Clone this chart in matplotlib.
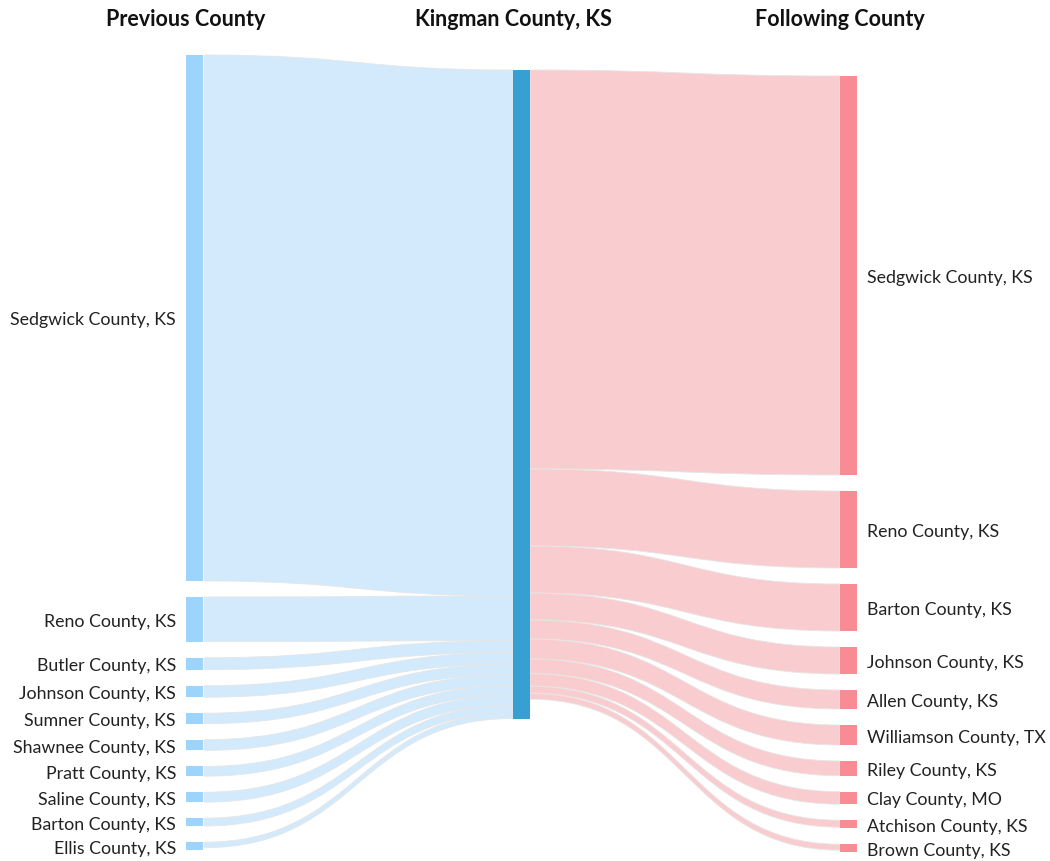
import matplotlib
matplotlib.use("Agg")
import matplotlib.pyplot as plt
from matplotlib.path import Path
from matplotlib.patches import PathPatch, Rectangle

# ---------------- data ----------------
center_name = "Kingman County, KS"
column_titles = ["Previous County", "Kingman County, KS", "Following County"]

prev_counties = ["Sedgwick County, KS", "Reno County, KS", "Butler County, KS",
                 "Johnson County, KS", "Sumner County, KS", "Shawnee County, KS",
                 "Pratt County, KS", "Saline County, KS", "Barton County, KS",
                 "Ellis County, KS"]
prev_values = [526, 44.7, 12, 11.5, 10.5, 10.7, 9.8, 10, 7.8, 5.5]

next_counties = ["Sedgwick County, KS", "Reno County, KS", "Barton County, KS",
                 "Johnson County, KS", "Allen County, KS", "Williamson County, TX",
                 "Riley County, KS", "Clay County, MO", "Atchison County, KS",
                 "Brown County, KS"]
next_values = [399, 77, 47, 27, 19, 20, 14.7, 12.5, 7, 6]

# ---------------- style / layout ----------------
W, H = 1050, 861
scale = 1.0          # px per unit
node_w = 17
gap = 16
min_node = 8
x_left, x_mid, x_right = 186, 513, 840
top_left, top_mid, top_right = 55, 70, 76
label_dy = 2.5

c_left_node = "#9dd4fc"
c_left_link = "#d2eafc"
c_mid_node = "#389fd3"
c_right_link = "#f9cdd0"
c_right_node = "#f88b93"
c_edge = "#e6e6e6"
txt_color = "#222222"

plt.rcParams['font.family'] = ['Lato', 'DejaVu Sans']

fig = plt.figure(figsize=(W / 100, H / 100), dpi=100)
ax = fig.add_axes([0, 0, 1, 1])
ax.set_xlim(0, W)
ax.set_ylim(H, 0)
ax.axis("off")


def link(xa, ya, xb, yb, w, color):
    xm = (xa + xb) / 2
    verts = [(xa, ya), (xm, ya), (xm, yb), (xb, yb),
             (xb, yb + w), (xm, yb + w), (xm, ya + w), (xa, ya + w), (xa, ya)]
    codes = [Path.MOVETO, Path.CURVE4, Path.CURVE4, Path.CURVE4,
             Path.LINETO, Path.CURVE4, Path.CURVE4, Path.CURVE4, Path.CLOSEPOLY]
    ax.add_patch(PathPatch(Path(verts, codes), facecolor=color,
                           edgecolor=c_edge, lw=0.6, zorder=1))


# left column
y = top_left
y_mid_in = top_mid
for name, v in zip(prev_counties, prev_values):
    h = max(v * scale, min_node)
    ax.add_patch(Rectangle((x_left, y), node_w, h, facecolor=c_left_node,
                           edgecolor="none", zorder=2))
    ax.text(x_left - 10, y + h / 2 + label_dy, name, ha="right", va="center",
            fontsize=12.8, color=txt_color)
    link(x_left + node_w + 1, y, x_mid, y_mid_in, v * scale, c_left_link)
    y_mid_in += v * scale
    y += h + gap

# center node
mid_h = sum(prev_values) * scale
ax.add_patch(Rectangle((x_mid, top_mid), node_w, mid_h, facecolor=c_mid_node,
                       edgecolor="none", zorder=2))

# right column
y = top_right
y_mid_out = top_mid
for name, v in zip(next_counties, next_values):
    h = max(v * scale, min_node)
    link(x_mid + node_w, y_mid_out, x_right, y, v * scale, c_right_link)
    ax.add_patch(Rectangle((x_right, y), node_w, h, facecolor=c_right_node,
                           edgecolor="none", zorder=2))
    ax.text(x_right + node_w + 10, y + h / 2 + label_dy, name, ha="left",
            va="center", fontsize=12.8, color=txt_color)
    y_mid_out += v * scale
    y += h + gap

for xt, t in zip([x_left, x_mid, x_right], column_titles):
    ax.text(xt, 19, t, ha="center", va="center", fontsize=15.5,
            fontweight="bold", color="#111111")

fig.savefig("out.png", dpi=100, facecolor="white")
